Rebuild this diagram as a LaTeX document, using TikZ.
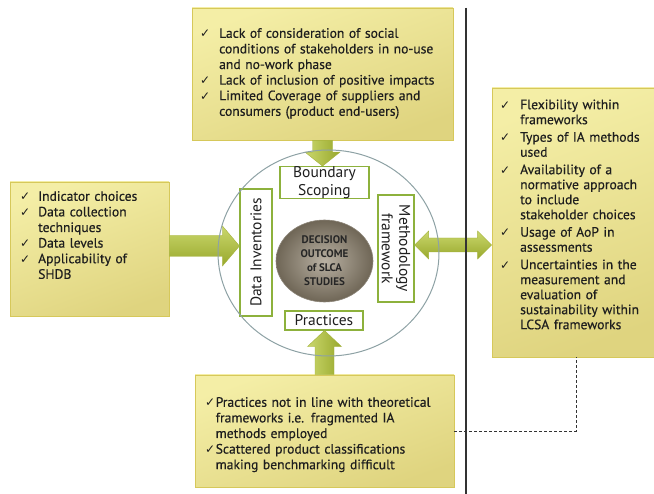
\documentclass[tikz,border=0pt]{standalone}
\usepackage{fontspec}
\setmainfont{PT Sans}
\newfontfamily\listfont{PT Sans}[FakeBold=0.4]
\newfontfamily\ckfont{DejaVu Sans}
\usetikzlibrary{calc,shapes.geometric}

\definecolor{boxtop}{HTML}{F4EEA6}
\definecolor{boxbot}{HTML}{DFD47F}
\definecolor{boxedge}{HTML}{D6C85A}
\definecolor{arrowlight}{HTML}{CAD76C}
\definecolor{arrowdark}{HTML}{98A82C}
\definecolor{arrowedge}{HTML}{A3B23A}
\definecolor{stageedge}{HTML}{8DB13C}
\definecolor{ringedge}{HTML}{8EA2A5}
\definecolor{corelight}{HTML}{B9B1A3}
\definecolor{coredark}{HTML}{6F6656}
\definecolor{textcol}{HTML}{1E1E1E}

% check-mark list item: the mark, then the item's lines in a top-aligned box;
% the depth of the item's last line is kept so that the baselines stay regular
\newlength{\ckw}
\newlength{\ckgap}
\newcommand{\ckitem}[1]{\par\noindent\makebox[\ckw][l]{\ckfont\fontsize{12}{12}\selectfont ✓}%
  \vtop{\hsize=\dimexpr\linewidth-\ckw\relax\parindent=0pt\raggedright
    #1\par\xdef\ckdepth{\the\prevdepth}}%
  \par\prevdepth=\ckdepth\relax\vskip\ckgap}

\begin{document}
\begin{tikzpicture}[x=1pt,y=-1pt,
  listbox/.style={rectangle, inner sep=0, draw=boxedge, line width=0.9pt,
    top color=boxtop, bottom color=boxbot, shading angle=20},
  listtext/.style={inner sep=0, anchor=north west, align=left, text=textcol,
    font=\listfont\fontsize{13.6}{15.6}\selectfont},
  stagebox/.style={rectangle, inner sep=0, draw=stageedge, fill=white,
    line width=1.1pt, align=center, text=textcol,
    font=\fontsize{15.5}{17.5}\selectfont},
  harrow/.style={top color=arrowlight, bottom color=arrowdark, draw=arrowedge, line width=0.4pt},
  varrow/.style={left color=arrowlight, right color=arrowdark, draw=arrowedge, line width=0.4pt},
]
\useasboundingbox (0,0) rectangle (654,494);

% separator between analysis and framework sides
\draw[line width=1.3pt, color=black!80] (466,8) coordinate (sepT) -- (466,494) coordinate (sepB);

% list boxes
\node[listbox, minimum width=261pt, minimum height=132pt] (topbox) at (322.5,74) {};
\node[listbox, minimum width=159pt, minimum height=134pt] (leftbox) at (89.5,249) {};
\node[listbox, minimum width=170pt, minimum height=269pt] (rightbox) at (577,222.5) {};
\node[listbox, minimum width=259pt, minimum height=112pt] (botbox) at (324.5,431) {};

\node[listtext, text width=300pt] (toptext) at (200,22) {\setlength{\ckw}{19pt}%
  \ckitem{Lack of consideration of social\\conditions of stakeholders in no-use\\and no-work phase}%
  \ckitem{Lack of inclusion of positive impacts}%
  \ckitem{Limited Coverage of suppliers and\\consumers (product end-users)}};

\node[listtext, text width=200pt] (lefttext) at (20,185) {\setlength{\ckw}{18pt}%
  \ckitem{Indicator choices}%
  \ckitem{Data collection\\techniques}%
  \ckitem{Data levels}%
  \ckitem{Applicability of\\SHDB}};

\node[listtext, text width=200pt, font=\listfont\fontsize{13.6}{15}\selectfont] (righttext) at (500,94)
  {\setlength{\ckw}{20pt}\setlength{\ckgap}{2.5pt}%
  \ckitem{Flexibility within\\frameworks}%
  \ckitem{Types of IA methods\\used}%
  \ckitem{Availability of a\\normative approach\\to include\\stakeholder choices}%
  \ckitem{Usage of AoP in\\assessments}%
  \ckitem{Uncertainties in the\\measurement and\\evaluation of\\sustainability within\\LCSA frameworks}};

\node[listtext, text width=300pt] (bottext) at (205,391) {\setlength{\ckw}{10.5pt}%
  \ckitem{Practices not in line with theoretical\\frameworks i.e. fragmented IA\\methods employed}%
  \ckitem{Scattered product classifications\\making benchmarking difficult}};

% outer ring (fill first, outline after the arrows)
\node[ellipse, minimum width=221pt, minimum height=206pt, inner sep=0, fill=white] (ring) at (328.5,253) {};

% stage labels around the core
\node[stagebox, minimum width=89pt, minimum height=31pt] (bscope) at (324.5,182.5) {Boundary\\Scoping};
\node[stagebox, minimum width=32pt, minimum height=127pt] (dinv) at (256,252.5) {};
\node[stagebox, minimum width=36pt, minimum height=107pt] (meth) at (396,248.5) {};
\node[stagebox, minimum width=78pt, minimum height=19pt] (prac) at (324,320.5) {Practices};

% block arrows feeding the stages
\coordinate (aT0) at (topbox.south);
\coordinate (aT1) at (topbox.south |- bscope.north);
\shade[varrow] ($(aT0)+(-10,0)$) -- ($(aT0)+(10,0)$) -- ($(aT1)+(10,-14)$) -- ($(aT1)+(17.5,-14)$)
  -- (aT1) -- ($(aT1)+(-17.5,-14)$) -- ($(aT1)+(-10,-14)$) -- cycle;

\coordinate (aL0) at ($(leftbox.east)+(0,-3)$);
\coordinate (aL1) at (aL0 -| dinv.west);
\shade[harrow] ($(aL0)+(0,-10.5)$) -- ($(aL1)+(-17,-10.5)$) -- ($(aL1)+(-17,-20)$) -- (aL1)
  -- ($(aL1)+(-17,20)$) -- ($(aL1)+(-17,10.5)$) -- ($(aL0)+(0,10.5)$) -- cycle;

\coordinate (aB0) at (botbox.north);
\coordinate (aB1) at (botbox.north |- prac.south);
\shade[varrow] ($(aB0)+(-9.5,0)$) -- ($(aB0)+(9.5,0)$) -- ($(aB1)+(9.5,16)$) -- ($(aB1)+(17,16)$)
  -- (aB1) -- ($(aB1)+(-17,16)$) -- ($(aB1)+(-9.5,16)$) -- cycle;

\coordinate (aR0) at ($(meth.east)+(0,-3.5)$);
\coordinate (aR1) at (aR0 -| rightbox.west);
\shade[harrow] (aR0) -- ($(aR0)+(14,-14)$) -- ($(aR0)+(14,-7)$) -- ($(aR1)+(-14,-7)$) -- ($(aR1)+(-14,-14)$)
  -- (aR1) -- ($(aR1)+(-14,14)$) -- ($(aR1)+(-14,7)$) -- ($(aR0)+(14,7)$) -- ($(aR0)+(14,14)$) -- cycle;

% ring outline, redrawn over the arrows
\draw[ringedge, line width=1pt] (ring.center) ellipse [x radius=110.5pt, y radius=103pt];
\draw[line width=1.3pt, color=black!80] (sepT) -- (sepB);

% rotated stage labels
\node[rotate=90, text=textcol, font=\fontsize{15.5}{17.5}\selectfont] at (dinv.center) {Data Inventories};
\node[rotate=-90, align=center, text=textcol, font=\fontsize{15.5}{17.5}\selectfont] at (meth.center) {Methodology\\framework};

% core
\node[ellipse, minimum width=97pt, minimum height=82pt, inner sep=0,
  inner color=corelight, outer color=coredark, draw=coredark!80, line width=0.6pt,
  align=center, text=black!85, font=\bfseries\fontsize{11}{14}\selectfont] (core) at (324.5,261)
  {DECISION\\OUTCOME\\of SLCA\\STUDIES};

% link from the practices list to the framework list
\draw[dashed, dash pattern=on 3pt off 2pt, line width=0.9pt, black!80]
  (botbox.east |- 0,431) -| (rightbox.south -| 576,0);
\end{tikzpicture}
\end{document}
